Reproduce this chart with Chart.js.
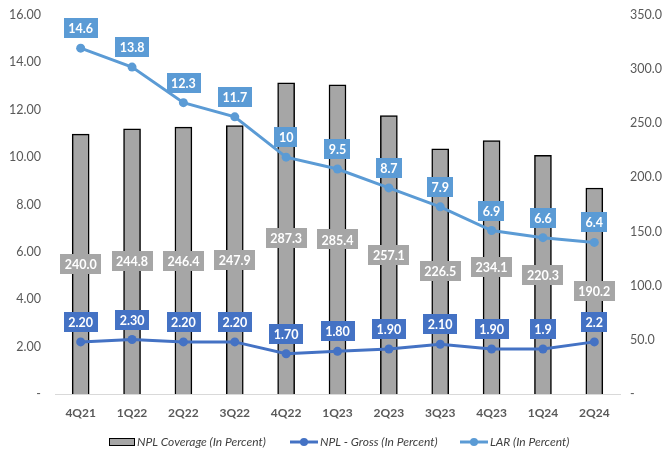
<!DOCTYPE html>
<html>
<head>
<meta charset="utf-8">
<script src="https://cdn.jsdelivr.net/npm/chart.js@4"></script>
<style>
  html, body { margin: 0; padding: 0; background: #fff; }
  #wrap { width: 665px; height: 454px; position: relative; }
</style>
</head>
<body>
<div id="wrap"><canvas id="chart"></canvas></div>
<script>
// data
const quarters = ["4Q21", "1Q22", "2Q22", "3Q22", "4Q22", "1Q23", "2Q23", "3Q23", "4Q23", "1Q24", "2Q24"];
const nplCoverage = [240.0, 244.8, 246.4, 247.9, 287.3, 285.4, 257.1, 226.5, 234.1, 220.3, 190.2];
const nplGross = [2.2, 2.3, 2.2, 2.2, 1.7, 1.8, 1.9, 2.1, 1.9, 1.9, 2.2];
const nplGrossLabels = ["2.20", "2.30", "2.20", "2.20", "1.70", "1.80", "1.90", "2.10", "1.90", "1.9", "2.2"];
const lar = [14.6, 13.8, 12.3, 11.7, 10, 9.5, 8.7, 7.9, 6.9, 6.6, 6.4];
const larLabels = ["14.6", "13.8", "12.3", "11.7", "10", "9.5", "8.7", "7.9", "6.9", "6.6", "6.4"];

const FONT = "Lato, 'Noto Sans', sans-serif";
const GREY_TXT = "#595959";
const BAR_GREY = "#a6a6a6";
const DARK_BLUE = "#4472c4";
const LIGHT_BLUE = "#5b9bd5";

// draws boxed value labels (no datalabels plugin offline)
const boxLabels = {
  id: "boxLabels",
  afterDatasetsDraw(chart) {
    const ctx = chart.ctx;
    ctx.save();
    ctx.font = "bold 12.5px " + FONT;
    ctx.textAlign = "center";
    ctx.textBaseline = "middle";

    const drawBox = (x, y, text, bg) => {
      const w = ctx.measureText(text).width + 9;
      const h = 20;
      ctx.fillStyle = bg;
      ctx.fillRect(Math.round(x - w / 2), Math.round(y - h / 2), Math.round(w), h);
      ctx.fillStyle = "#ffffff";
      ctx.fillText(text, x, y + 1);
    };

    // bar labels in the middle of each bar
    chart.getDatasetMeta(2).data.forEach((el, i) => {
      drawBox(el.x, (el.y + el.base) / 2, nplCoverage[i].toFixed(1), BAR_GREY);
    });
    chart.getDatasetMeta(0).data.forEach((el, i) => {
      drawBox(el.x, el.y - 20, nplGrossLabels[i], DARK_BLUE);
    });
    chart.getDatasetMeta(1).data.forEach((el, i) => {
      drawBox(el.x, el.y - 20, larLabels[i], LIGHT_BLUE);
    });
    ctx.restore();
  }
};

// legend at the bottom, Excel style
const bottomLegend = {
  id: "bottomLegend",
  afterDraw(chart) {
    const ctx = chart.ctx;
    const y = 442;
    ctx.save();
    ctx.font = "italic 12px " + FONT;
    ctx.fillStyle = "#404040";
    ctx.textBaseline = "middle";
    ctx.textAlign = "left";

    // bar swatch
    ctx.fillStyle = BAR_GREY;
    ctx.fillRect(109, y - 4, 26, 8);
    ctx.strokeStyle = "#000";
    ctx.lineWidth = 1;
    ctx.strokeRect(109.5, y - 3.5, 25, 7);
    ctx.fillStyle = "#404040";
    ctx.fillText("NPL Coverage (In Percent)", 137, y);

    const lineItem = (x0, color, text) => {
      ctx.strokeStyle = color;
      ctx.lineWidth = 3;
      ctx.beginPath();
      ctx.moveTo(x0, y);
      ctx.lineTo(x0 + 28, y);
      ctx.stroke();
      ctx.fillStyle = color;
      ctx.beginPath();
      ctx.arc(x0 + 14, y, 4, 0, Math.PI * 2);
      ctx.fill();
      ctx.fillStyle = "#404040";
      ctx.fillText(text, x0 + 30, y);
    };
    lineItem(290, DARK_BLUE, "NPL - Gross (In Percent)");
    lineItem(460, LIGHT_BLUE, "LAR (In Percent)");
    ctx.restore();
  }
};

// y axes: fixed width, no extra label overflow padding
const fixAxis = (w) => (scale) => {
  scale.width = w;
  scale.paddingTop = 0;
  scale.paddingBottom = 0;
};

new Chart(document.getElementById("chart"), {
  type: "bar",
  data: {
    labels: quarters,
    datasets: [
      {
        type: "line",
        label: "NPL - Gross (In Percent)",
        data: nplGross,
        yAxisID: "y",
        borderColor: DARK_BLUE,
        backgroundColor: DARK_BLUE,
        borderWidth: 3,
        pointRadius: 4.5,
        pointBackgroundColor: DARK_BLUE,
        pointBorderWidth: 0,
        tension: 0,
        order: 2
      },
      {
        type: "line",
        label: "LAR (In Percent)",
        data: lar,
        yAxisID: "y",
        borderColor: LIGHT_BLUE,
        backgroundColor: LIGHT_BLUE,
        borderWidth: 3,
        pointRadius: 4.5,
        pointBackgroundColor: LIGHT_BLUE,
        pointBorderWidth: 0,
        tension: 0,
        order: 1
      },
      {
        type: "bar",
        label: "NPL Coverage (In Percent)",
        data: nplCoverage,
        yAxisID: "y2",
        backgroundColor: BAR_GREY,
        borderColor: "#000000",
        borderWidth: 1.5,
        borderSkipped: "bottom",
        barThickness: 17,
        order: 3
      }
    ]
  },
  options: {
    responsive: true,
    maintainAspectRatio: false,
    animation: false,
    layout: { padding: { top: 15, left: 0, right: 0, bottom: 0 } },
    plugins: {
      legend: { display: false },
      tooltip: { enabled: false }
    },
    scales: {
      x: {
        offset: true,
        grid: { display: false, drawTicks: false },
        border: { display: true, color: "#d9d9d9", width: 1 },
        ticks: {
          color: GREY_TXT,
          font: { family: FONT, size: 12, weight: "bold" },
          padding: 12,
          maxRotation: 0
        },
        afterFit(scale) { scale.height = 60; }
      },
      y: {
        position: "left",
        min: 0,
        max: 16,
        grid: { display: false, drawTicks: false },
        border: { display: false },
        ticks: {
          stepSize: 2,
          color: GREY_TXT,
          font: { family: FONT, size: 12.5 },
          padding: 14,
          callback: (v) => (v === 0 ? "-" : v.toFixed(2))
        },
        afterFit: fixAxis(55)
      },
      y2: {
        position: "right",
        min: 0,
        max: 350,
        grid: { display: false, drawTicks: false },
        border: { display: false },
        ticks: {
          stepSize: 50,
          color: GREY_TXT,
          font: { family: FONT, size: 12.5 },
          padding: 10,
          callback: (v) => (v === 0 ? "-" : v.toFixed(1))
        },
        afterFit: fixAxis(45)
      }
    }
  },
  plugins: [boxLabels, bottomLegend]
});
</script>
</body>
</html>
